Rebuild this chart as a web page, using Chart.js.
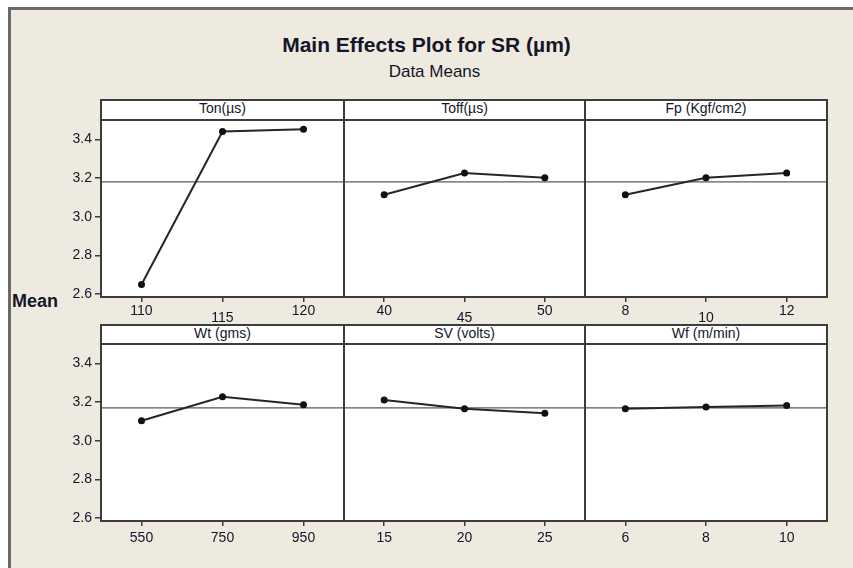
<!DOCTYPE html>
<html>
<head>
<meta charset="utf-8">
<script src="https://cdn.jsdelivr.net/npm/chart.js@4.4.0/dist/chart.umd.min.js"></script>
<style>
  html, body { margin: 0; padding: 0; background: #ffffff; }
  body { width: 853px; height: 568px; position: relative; overflow: hidden; font-family: "Liberation Sans", Arial, sans-serif; color: #15152a; }
  #frame { position: absolute; left: 8px; top: 7px; width: 860px; height: 580px; background: #EEEADF; border-left: 3px solid #6a6a6a; border-top: 3px solid #6a6a6a; box-sizing: border-box; }
  .txt { position: absolute; white-space: nowrap; }
  .strip { position: absolute; background: #ffffff; border: 2px solid #3c3c3c; box-sizing: border-box; font-size: 14px; text-align: center; line-height: 15px; }
  canvas { position: absolute; }
</style>
</head>
<body>
<div id="frame"></div>
<div class="txt" id="title" style="left:0; width:853px; text-align:center; top:33px; font-size:21px; font-weight:bold;">Main Effects Plot for SR (µm)</div>
<div class="txt" id="subtitle" style="left:8px; width:853px; text-align:center; top:62px; font-size:17px;">Data Means</div>
<div class="txt" id="ylab" style="left:12px; top:291px; font-size:18px; font-weight:bold;">Mean</div>
<script>
// ---- data ----
const factorNames = ['Ton(µs)', 'Toff(µs)', 'Fp (Kgf/cm2)', 'Wt (gms)', 'SV (volts)', 'Wf (m/min)'];
const tonLevels  = ['110', '115', '120'];
const toffLevels = ['40', '45', '50'];
const fpLevels   = ['8', '10', '12'];
const wtLevels   = ['550', '750', '950'];
const svLevels   = ['15', '20', '25'];
const wfLevels   = ['6', '8', '10'];
const tonMeans  = [2.65, 3.44, 3.452];
const toffMeans = [3.114, 3.226, 3.201];
const fpMeans   = [3.114, 3.201, 3.226];
const wtMeans   = [3.103, 3.227, 3.186];
const svMeans   = [3.211, 3.165, 3.142];
const wfMeans   = [3.165, 3.174, 3.182];
const grandMeanRows = [3.18, 3.17];
const yTicks = [2.6, 2.8, 3.0, 3.2, 3.4];
const yMin = 2.585, yMax = 3.5;

const levelsList = [tonLevels, toffLevels, fpLevels, wtLevels, svLevels, wfLevels];
const meansList  = [tonMeans, toffMeans, fpMeans, wtMeans, svMeans, wfMeans];

// ---- layout ----
const colL = [101, 344, 585, 827];
const stripTop = [100, 325];
const plotTop = [120, 344];
const plotH = 177;
const padLeft = 45, padRight = 10, padTop = 4;
const FONT = '"Liberation Sans", Arial, sans-serif';
const TEXT = '#15152a';

const boxPlugin = {
  id: 'box',
  beforeDraw(chart) {
    const a = chart.chartArea, c = chart.ctx;
    c.save(); c.fillStyle = '#ffffff'; c.fillRect(a.left, a.top, a.right - a.left, a.bottom - a.top); c.restore();
  },
  afterDraw(chart) {
    const a = chart.chartArea, c = chart.ctx;
    c.save(); c.strokeStyle = '#3c3c3c'; c.lineWidth = 2;
    c.strokeRect(a.left, a.top, a.right - a.left, a.bottom - a.top); c.restore();
  }
};

for (let k = 0; k < 6; k++) {
  const row = Math.floor(k / 3), col = k % 3;
  const L = colL[col], R = colL[col + 1];
  const plotW = R - L;

  // strip header
  const s = document.createElement('div');
  s.className = 'strip';
  s.style.left = (L - 1) + 'px';
  s.style.top = (stripTop[row] - 1) + 'px';
  s.style.width = (plotW + 2) + 'px';
  s.style.height = (plotTop[row] - stripTop[row] + 2) + 'px';
  s.textContent = factorNames[k];
  document.body.appendChild(s);

  const xAxisH = 34;
  const cv = document.createElement('canvas');
  const cw = padLeft + plotW + padRight, ch = padTop + plotH + xAxisH;
  cv.width = cw; cv.height = ch;
  cv.style.left = (L - padLeft) + 'px';
  cv.style.top = (plotTop[row] - padTop) + 'px';
  cv.style.width = cw + 'px'; cv.style.height = ch + 'px';
  document.body.appendChild(cv);

  const levels = levelsList[k];
  const means = meansList[k];
  const gm = grandMeanRows[row];

  new Chart(cv, {
    type: 'line',
    data: {
      datasets: [
        {
          data: means.map((v, i) => ({ x: i, y: v })),
          borderColor: '#262626', borderWidth: 2,
          pointRadius: 3.5, pointBackgroundColor: '#111111', pointBorderColor: '#111111', pointBorderWidth: 0,
          tension: 0, order: 1
        },
        {
          data: [{ x: -0.5, y: gm }, { x: levels.length - 0.5, y: gm }],
          borderColor: '#5a5a5a', borderWidth: 1.2, pointRadius: 0, order: 2
        }
      ]
    },
    options: {
      responsive: false, animation: false, devicePixelRatio: 1,
      layout: { padding: { left: 0, right: padRight, top: padTop, bottom: 0 } },
      plugins: { legend: { display: false }, tooltip: { enabled: false } },
      scales: {
        x: {
          type: 'linear', min: -0.5, max: levels.length - 0.5,
          border: { display: false },
          grid: { drawOnChartArea: false, drawTicks: true, tickLength: 5, color: '#3c3c3c', lineWidth: 1.5 },
          afterBuildTicks: (sc) => { sc.ticks = levels.map((_, i) => ({ value: i })); },
          afterFit: (sc) => { sc.height = xAxisH; sc.paddingLeft = 0; sc.paddingRight = 0; },
          ticks: {
            color: TEXT, padding: 0, maxRotation: 0, autoSkip: false,
            font: (ctx) => {
              let lh = 25;
              if (row === 0) lh = (ctx.index === 1) ? 33 : 19;
              return { family: FONT, size: 14, lineHeight: lh + 'px' };
            },
            callback: (v) => levels[v]
          }
        },
        y: {
          type: 'linear', min: yMin, max: yMax,
          border: { display: false },
          grid: { drawOnChartArea: false, drawTicks: col === 0, tickLength: 6, color: '#3c3c3c', lineWidth: 1.5 },
          afterBuildTicks: (sc) => { sc.ticks = yTicks.map(v => ({ value: v })); },
          afterFit: (sc) => { sc.width = padLeft; sc.paddingTop = 0; sc.paddingBottom = 0; },
          ticks: {
            display: col === 0, color: TEXT, padding: 3,
            font: { family: FONT, size: 14 },
            callback: (v) => Number(v).toFixed(1)
          }
        }
      }
    },
    plugins: [boxPlugin]
  });
}
</script>
</body>
</html>
